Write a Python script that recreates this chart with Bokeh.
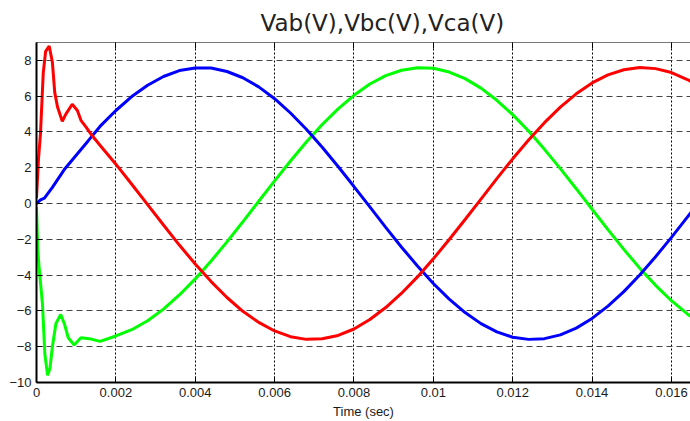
from bokeh.plotting import figure
from bokeh.models import FixedTicker, LinearAxis, Range1d, Title
from bokeh.embed import file_html
from bokeh.resources import INLINE

# ---- data ----
x_ticks = [0, 0.002, 0.004, 0.006, 0.008, 0.010, 0.012, 0.014, 0.016]
x_tick_labels = ["0", "0.002", "0.004", "0.006", "0.008", "0.01", "0.012", "0.014", "0.016"]
y_ticks = [-10, -8, -6, -4, -2, 0, 2, 4, 6, 8]

# start-up transient (fine sampling)
t_red0 = [0, 0.00005, 0.0001, 0.00017, 0.00023, 0.00032, 0.0004, 0.00046, 0.00053,
          0.00065, 0.00074, 0.0009, 0.00103, 0.00112, 0.00124, 0.0014]
red0 = [0.3, 2.5, 3.9, 7.3, 8.5, 8.8, 7.9, 6.2, 5.4, 4.6, 5.0, 5.55, 5.2, 4.65, 4.3, 3.8]

t_green0 = [0, 0.00003, 0.00007, 0.00015, 0.00021, 0.00028, 0.00034, 0.0004, 0.00049,
            0.00061, 0.0007, 0.0008, 0.00095, 0.00112, 0.00133]
green0 = [-0.2, -2.5, -3.7, -5.6, -8.4, -9.6, -9.2, -8.0, -6.7, -6.2, -6.7, -7.5, -7.9,
          -7.5, -7.55]

t_blue0 = [0, 0.0001, 0.0002, 0.0004, 0.0007, 0.001, 0.0013]
blue0 = [0.0, 0.2, 0.3, 0.9, 1.9, 2.7, 3.5]

# steady part
t_main = [0.0016, 0.0020, 0.0024, 0.0028, 0.0032, 0.0036, 0.0040, 0.0044, 0.0048, 0.0052,
          0.0056, 0.0060, 0.0064, 0.0068, 0.0072, 0.0076, 0.0080, 0.0084, 0.0088, 0.0092,
          0.0096, 0.0100, 0.0104, 0.0108, 0.0112, 0.0116, 0.0120, 0.0124, 0.0128, 0.0132,
          0.0136, 0.0140, 0.0144, 0.0148, 0.0152, 0.0156, 0.0160, 0.0164, 0.0165]
vab = [4.31, 5.20, 5.98, 6.61, 7.10, 7.43, 7.58, 7.57, 7.38, 7.03,
       6.52, 5.86, 5.06, 4.15, 3.15, 2.07, 0.95, -0.19, -1.33, -2.44,
       -3.49, -4.47, -5.34, -6.09, -6.71, -7.17, -7.47, -7.59, -7.55, -7.34,
       -6.96, -6.42, -5.73, -4.92, -3.99, -2.97, -1.89, -0.76, -0.48]
vbc = [-7.7, -7.40, -7.05, -6.55, -5.90, -5.11, -4.21, -3.21, -2.14, -1.02,
       0.13, 1.27, 2.38, 3.44, 4.42, 5.29, 6.05, 6.68, 7.15, 7.45,
       7.59, 7.56, 7.35, 6.98, 6.45, 5.77, 4.97, 4.05, 3.03, 1.95,
       0.83, -0.32, -1.46, -2.56, -3.61, -4.57, -5.43, -6.17, -6.33]
vca = [3.26, 2.20, 1.08, -0.06, -1.20, -2.32, -3.38, -4.36, -5.25, -6.02,
       -6.64, -7.12, -7.44, -7.59, -7.56, -7.37, -7.01, -6.48, -5.81, -5.01,
       -4.10, -3.09, -2.01, -0.89, 0.25, 1.39, 2.50, 3.55, 4.52, 5.39,
       6.13, 6.74, 7.19, 7.48, 7.60, 7.54, 7.32, 6.93, 6.81]

# ---- figure ----
p = figure(width=690, height=421, output_backend="svg", toolbar_location=None,
           x_range=Range1d(0, 0.01648), y_range=Range1d(-10, 9),
           min_border_left=36, min_border_right=0, min_border_top=41, min_border_bottom=38,
           x_axis_label="Time (sec)")
p.background_fill_color = "white"
p.border_fill_color = "white"
p.outline_line_color = None

for ax in (p.xaxis[0], p.yaxis[0]):
    ax.axis_line_color = "black"
    ax.axis_line_width = 2
    ax.major_tick_in = 6
    ax.major_tick_out = 0
    ax.minor_tick_line_color = None
    ax.major_tick_line_color = "black"
    ax.major_label_text_font = "Liberation Sans"
    ax.major_label_text_font_size = "13px"
    ax.major_label_text_color = "#1a1a1a"
    ax.major_label_standoff = 5

p.xaxis.ticker = FixedTicker(ticks=x_ticks)
p.xaxis.major_label_overrides = {tv: lab for tv, lab in zip(x_ticks, x_tick_labels)}
p.yaxis.ticker = FixedTicker(ticks=y_ticks)
p.xaxis.axis_label_text_font = "Liberation Sans"
p.xaxis.axis_label_text_font_size = "13px"
p.xaxis.axis_label_text_font_style = "normal"
p.xaxis.axis_label_text_color = "#1a1a1a"
p.xaxis.axis_label_standoff = 4

# top border with inward ticks (no labels)
top = LinearAxis(ticker=FixedTicker(ticks=x_ticks),
                 major_label_overrides={tv: "" for tv in x_ticks},
                 major_label_text_font_size="2px",
                 major_tick_in=6, major_tick_out=0, major_label_standoff=0,
                 minor_tick_line_color=None, axis_line_color="#777777",
                 major_tick_line_color="black")
p.add_layout(top, "above")

title = Title(text="Vab(V),Vbc(V),Vca(V)", align="left", offset=224,
              text_font="DejaVu Sans", text_font_size="23px", text_font_style="normal",
              text_color="#222222", standoff=14)
p.add_layout(title, "above")

p.xgrid.ticker = FixedTicker(ticks=x_ticks)
p.ygrid.ticker = FixedTicker(ticks=y_ticks)
p.xgrid.grid_line_color = "black"
p.xgrid.grid_line_dash = "2 2"
p.xgrid.grid_line_width = 1
p.ygrid.grid_line_color = "#444444"
p.ygrid.grid_line_dash = "6 4"
p.ygrid.grid_line_width = 1

p.line(t_green0 + t_main, green0 + vbc, line_color="#00ff00", line_width=3)
p.line(t_blue0 + t_main, blue0 + vab, line_color="#0000ff", line_width=3)
p.line(t_red0 + t_main, red0 + vca, line_color="#ff0000", line_width=3)

open("out.html", "w").write(file_html(p, INLINE))
